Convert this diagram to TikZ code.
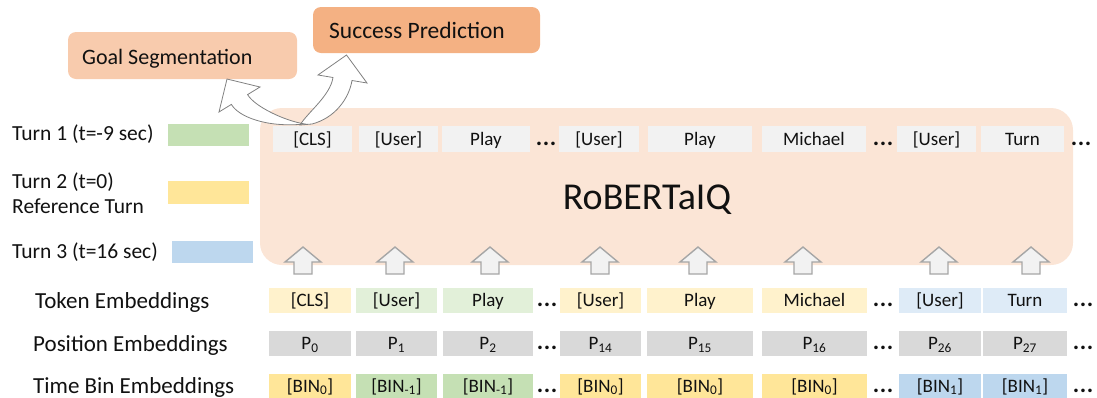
\documentclass[tikz,border=0pt]{standalone}
\usepackage{fontspec}
\setmainfont{Carlito}
\definecolor{robfill}{HTML}{FBE5D6}
\definecolor{goalfill}{HTML}{F8CBAD}
\definecolor{succfill}{HTML}{F4B183}
\definecolor{tokgray}{HTML}{F2F2F2}
\definecolor{posgray}{HTML}{D9D9D9}
\definecolor{yelL}{HTML}{FFF2CC}
\definecolor{grnL}{HTML}{E2F0D9}
\definecolor{bluL}{HTML}{DEEBF7}
\definecolor{yelD}{HTML}{FFE699}
\definecolor{grnD}{HTML}{C5E0B4}
\definecolor{bluD}{HTML}{BDD7EE}
\definecolor{arrgray}{HTML}{A6A6A6}
\definecolor{curvegray}{HTML}{808080}
\definecolor{txt}{HTML}{111111}
\newcommand{\mydots}{.\kern0.6pt.\kern0.6pt.}
\begin{document}
\begin{tikzpicture}[x=1pt,y=-1pt,
  cell/.style={inner sep=0pt, text=txt, font=\fontsize{19}{22}\selectfont, text height=14pt, text depth=2pt},
  dots/.style={inner sep=0pt, text=txt, font=\fontsize{24}{26}\selectfont\bfseries, text height=14pt, text depth=2pt},
  lbl/.style={inner sep=0pt, anchor=base west, text=txt, font=\fontsize{23}{26}\selectfont},
  leg/.style={inner sep=0pt, anchor=base west, text=txt, font=\fontsize{21.5}{25}\selectfont},
  taskbox/.style={rounded corners=8pt, inner sep=0pt},
  uparrow/.style={fill=tokgray, draw=arrgray, line width=1.4pt},
  curvearrow/.style={fill=white, draw=curvegray, line width=0.8pt, line join=miter}]
\useasboundingbox (0,0) rectangle (1097,397);

% RoBERTa box
\node[fill=robfill, rounded corners=22pt, inner sep=0pt, minimum width=813pt, minimum height=157pt] (rob) at (666.5,186.5) {};
\node[inner sep=0pt, text=txt, font=\fontsize{38}{44}\selectfont] (robtxt) at (647,200) {RoBERTaIQ};

% top token row
\foreach \n/\l/\r/\t in {t1/273/352/{[CLS]}, t2/359/438/{[User]}, t3/442/530/{Play}, t4/559/639/{[User]}, t5/648/752/{Play}, t6/762/866/{Michael}, t7/897/976/{[User]}, t8/981/1064/{Turn}}{
  \node[cell, fill=tokgray, minimum width={\r-\l}, minimum height=26pt] (\n) at ({(\l+\r)/2},139) {\t};
}
\node[dots] (td1) at (546,139) {\mydots};
\node[dots] (td2) at (883,139) {\mydots};
\node[dots] (td3) at (1081,139) {\mydots};

% legend
\node[leg] (l1) at (12,140) {Turn 1 (t=-9 sec)};
\node[leg] (l2) at (12,188) {Turn 2 (t=0)};
\node[leg] (l3) at (12,213) {Reference Turn};
\node[leg] (l4) at (12,258) {Turn 3 (t=16 sec)};
\node[fill=grnD, inner sep=0pt, minimum width=81pt, minimum height=22pt] (lg) at (208.5,135) {};
\node[fill=yelD, inner sep=0pt, minimum width=81pt, minimum height=23pt] (ly) at (208.5,192.5) {};
\node[fill=bluD, inner sep=0pt, minimum width=81pt, minimum height=22pt] (lb) at (212.5,252) {};

% row labels
\node[lbl] (rl1) at (35,308) {Token Embeddings};
\node[lbl] (rl2) at (33,351) {Position Embeddings};
\node[lbl] (rl3) at (33,393) {Time Bin Embeddings};

% embedding rows
\foreach \n/\l/\r/\ca/\ta/\cc/\tc in {
  1/269/351/yelL/{[CLS]}/yelD/{[BIN\textsubscript{0}]},
  2/356/437/grnL/{[User]}/grnD/{[BIN\textsubscript{-1}]},
  3/443/533/grnL/{Play}/grnD/{[BIN\textsubscript{-1}]},
  4/560/641/yelL/{[User]}/yelD/{[BIN\textsubscript{0}]},
  5/647/753/yelL/{Play}/yelD/{[BIN\textsubscript{0}]},
  6/762/867/yelL/{Michael}/yelD/{[BIN\textsubscript{0}]},
  7/899/981/bluL/{[User]}/bluD/{[BIN\textsubscript{1}]},
  8/983/1067/bluL/{Turn}/bluD/{[BIN\textsubscript{1}]}}{
  \node[cell, fill=\ca, minimum width={\r-\l}, minimum height=25pt] (e\n) at ({(\l+\r)/2},300.5) {\ta};
  \node[cell, fill=\cc, minimum width={\r-\l}, minimum height=25pt] (b\n) at ({(\l+\r)/2},386) {\tc};
}
\foreach \n/\l/\r/\s in {1/269/351/0, 2/356/437/1, 3/443/533/2, 4/560/641/14, 5/647/753/15, 6/762/867/16, 7/899/981/26, 8/983/1067/27}{
  \node[cell, fill=posgray, minimum width={\r-\l}, minimum height=25pt] (p\n) at ({(\l+\r)/2},343.5) {P\textsubscript{\s}};
}
\foreach \y/\k in {300.5/e, 343.5/p, 386/b}{
  \node[dots] (\k d1) at (547,\y) {\mydots};
  \node[dots] (\k d2) at (883,\y) {\mydots};
  \node[dots] (\k d3) at (1083,\y) {\mydots};
}

% up arrows
\foreach \x in {303,395,490,600,698,803,939,1031}{
  \draw[uparrow] (\x-9,274) -- (\x-9,262) -- (\x-18,262) -- (\x,247) -- (\x+18,262) -- (\x+9,262) -- (\x+9,274) -- cycle;
}

% task boxes
\node[taskbox, fill=goalfill, minimum width=229pt, minimum height=47pt] (goal) at (182.5,55.5) {};
\node[inner sep=0pt, anchor=base west, text=txt, font=\fontsize{22}{26}\selectfont] (goaltxt) at (82,64) {Goal Segmentation};
\node[taskbox, fill=succfill, minimum width=227pt, minimum height=46pt] (succ) at (426.5,30) {};
\node[inner sep=0pt, anchor=base west, text=txt, font=\fontsize{23.5}{27}\selectfont] (succtxt) at (329,38) {Success Prediction};

% curved arrows
\draw[curvearrow] (300,125) .. controls (308,112) and (330,96) .. (333,77.5) -- (318,75) -- (346.5,55) -- (367,83) -- (352,80.5) .. controls (349,98.5) and (335,118) .. (312,124) -- cycle;
\draw[curvearrow] (305,124) .. controls (265,128) and (238,116) .. (231.4,104.4) -- (219,112) -- (227,79) -- (260,87) -- (247.6,94.6) .. controls (254.6,106.6) and (285,121) .. (305,124) -- cycle;
\end{tikzpicture}
\end{document}
